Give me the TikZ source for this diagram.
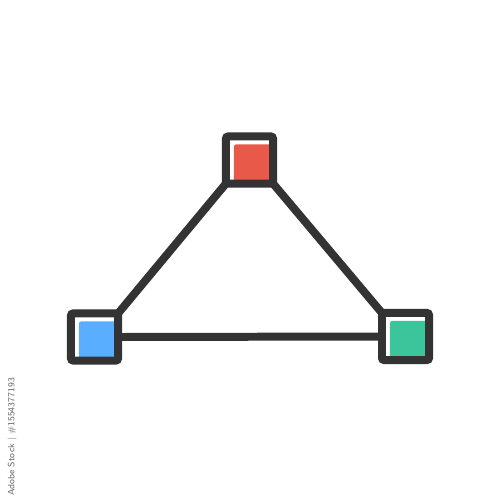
\documentclass[tikz,border=0pt]{standalone}
\usetikzlibrary{backgrounds}
\definecolor{dark}{HTML}{333333}
\definecolor{nred}{HTML}{E8594A}
\definecolor{nblue}{HTML}{5AAEFF}
\definecolor{ngreen}{HTML}{3CC49A}
\tikzset{
  px/.style={x=0.01cm,y=-0.01cm},
  sq/.style={draw=dark, line width=2.27pt, fill=white, rounded corners=0.6pt,
    minimum size=0.47cm, inner sep=0pt, outer sep=0pt,
    path picture={\fill[#1] ([xshift=0.08cm,yshift=-0.08cm]path picture bounding box.north west) rectangle (path picture bounding box.south east);}},
  edge/.style={draw=dark, line width=2.27pt}
}
\begin{document}
\begin{tikzpicture}[px]
\useasboundingbox (0,0) rectangle (500,500);
\node[sq=nred] (top) at (249.5,160) {};
\node[sq=nblue] (left) at (94.5,337) {};
\node[sq=ngreen] (right) at (405.5,336.5) {};
\node[rotate=90, text=black!60, inner sep=0pt, font=\sffamily\fontsize{2.6}{3}\selectfont] (wm) at (12,437) {Adobe Stock | \#1554377193};
\begin{scope}[on background layer]
\fill[white] (0,0) rectangle (500,500);
\draw[edge] (top.south west) -- (left.north east);
\draw[edge] (top.south east) -- (right.north west);
\draw[edge] (left.east) -- (right.west);
\end{scope}
\end{tikzpicture}
\end{document}
